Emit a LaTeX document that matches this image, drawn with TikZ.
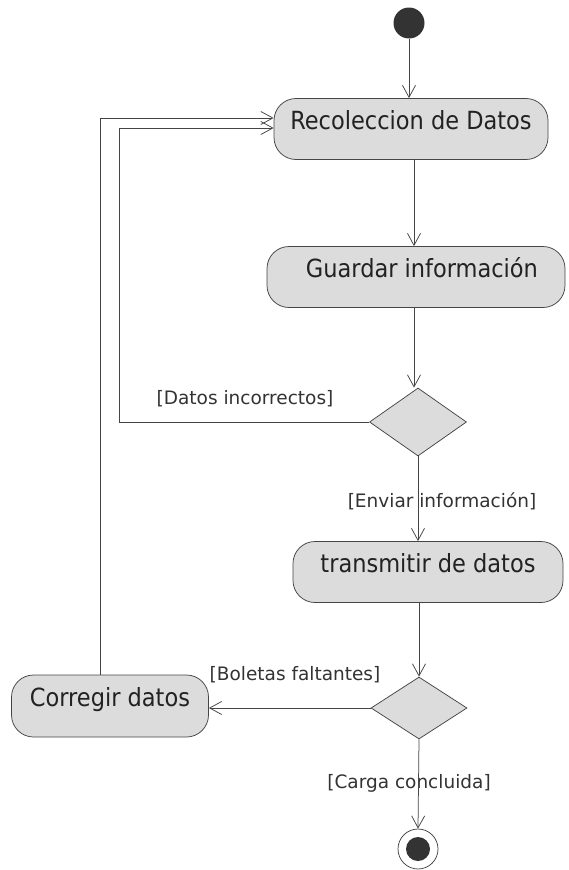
\documentclass[tikz,border=0pt]{standalone}
\usepackage{fontspec}
\setmainfont{DejaVu Sans Condensed}
\newfontfamily\labfont{DejaVu Sans}
\usetikzlibrary{arrows.meta,shapes.geometric}
\definecolor{linec}{HTML}{454545}
\definecolor{boxfill}{HTML}{DCDCDC}
\definecolor{dotc}{HTML}{333333}
\definecolor{txtc}{HTML}{222222}
\begin{document}
\begin{tikzpicture}[x=1pt,y=-1pt,
  act/.style={draw=linec, fill=boxfill, rounded corners=22pt, minimum height=61pt,
    inner sep=0pt, font=\fontsize{25}{29}\selectfont, text=txtc,
    text height=14pt, text depth=14pt, line width=0.75pt},
  dec/.style={diamond, draw=linec, fill=boxfill, inner sep=0pt, line width=0.75pt},
  lab/.style={font=\labfont\fontsize{18.5}{22}\selectfont, text=dotc, inner sep=0pt, anchor=base},
  flow/.style={draw=linec, line width=0.75pt,
    -{Straight Barb[length=12pt,width=13pt,line width=0.75pt]}}]
\useasboundingbox[fill=white] (0,0) rectangle (569,870);
% nodes
\node[circle, fill=dotc, minimum size=31pt, inner sep=0pt] (start) at (409,23) {};
\node[act, minimum width=274pt] (rec) at (411,129) {Recoleccion de Datos};
\node[act, minimum width=298pt] (guard) at (416,277) {\hspace*{12pt}Guardar información};
\node[dec, minimum width=97pt, minimum height=68pt] (d1) at (418,422) {};
\node[act, minimum width=270pt] (trans) at (428,572) {transmitir de datos};
\node[dec, minimum width=96pt, minimum height=62pt] (d2) at (419,708) {};
\node[act, minimum width=197pt, minimum height=62pt] (corr) at (110,706) {Corregir datos};
\node[circle, draw=linec, fill=white, line width=0.75pt, minimum size=40pt, inner sep=0pt] (endo) at (418,849) {};
\node[circle, fill=dotc, minimum size=24pt, inner sep=0pt] (endi) at (endo) {};
% labels
\node[lab] (l1) at (245,404) {[Datos incorrectos]};
\node[lab] (l2) at (442,507) {[Enviar información]};
\node[lab] (l3) at (295,680) {[Boletas faltantes]};
\node[lab] (l4) at (409,788) {[Carga concluida]};
% helper coordinates
\coordinate (k1) at (119,128);
\coordinate (k2) at (100,118);
% connectors
\draw[flow] (start) -- (start |- rec.north);
\draw[flow] ([xshift=3pt]rec.south) -- ([xshift=3pt]rec.south |- guard.north);
\draw[flow] ([xshift=-2pt]guard.south) -- ([xshift=-2pt]guard.south |- d1.north);
\draw[flow] (d1.south) -- (d1.south |- trans.north);
\draw[flow] (trans.south -| d2.north) -- (d2.north);
\draw[flow] (d2.south) -- (endo.north);
\draw[flow] (d2.west) -- (d2.west -| corr.east);
\draw[flow] (d1.west) -| (k1) -- (k1 -| rec.west);
\draw[flow] (corr.north -| k2) -- (k2) -- (k2 -| rec.west);
\end{tikzpicture}
\end{document}
